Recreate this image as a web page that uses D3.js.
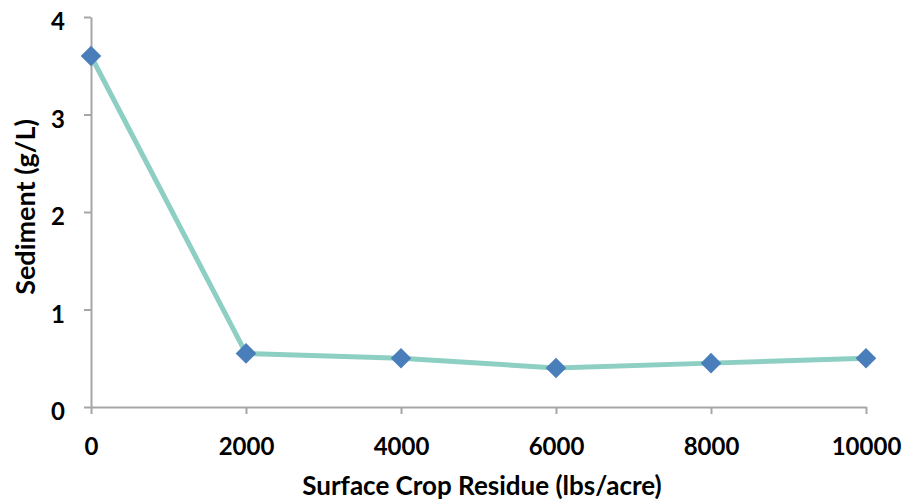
<!DOCTYPE html>
<html>
<head>
<meta charset="utf-8">
<script src="https://cdn.jsdelivr.net/npm/d3@7"></script>
<style>
  body { margin: 0; background: white; }
  text { font-family: Lato, "Open Sans", sans-serif; font-weight: bold; fill: #000; }
</style>
</head>
<body>
<div id="chart"></div>
<script>
// crop residue (lbs/acre) vs sediment (g/L)
const residue = [0, 2000, 4000, 6000, 8000, 10000];
const sediment = [3.6, 0.55, 0.5, 0.4, 0.45, 0.5];
const xTicks = [0, 2000, 4000, 6000, 8000, 10000];
const yTicks = [0, 1, 2, 3, 4];

let dim = { width: 920, height: 503 };
let m = { left: 91, right: 54, top: 17, bottom: 96 };

let svg = d3.select('#chart').append('svg')
    .attr('width', dim.width)
    .attr('height', dim.height);

let x = d3.scaleLinear().domain([0, 10000]).range([m.left, dim.width - m.right]);
let y = d3.scaleLinear().domain([0, 4]).range([dim.height - m.bottom, m.top]);

let xAxis = svg.append('g')
    .attr('transform', 'translate(0,' + y(0) + ')')
    .call(d3.axisBottom(x).tickValues(xTicks).tickSize(7).tickSizeOuter(0).tickFormat(d3.format('d')));

let yAxis = svg.append('g')
    .attr('transform', 'translate(' + x(0) + ',0)')
    .call(d3.axisLeft(y).tickValues(yTicks).tickSize(7).tickSizeOuter(0).tickPadding(19).tickFormat(d3.format('d')));

[xAxis, yAxis].forEach(a => {
    a.selectAll('path, line').attr('stroke', '#a6a6a6').attr('stroke-width', 2);
    a.selectAll('text').style('font-size', '24px');
});
xAxis.selectAll('text').attr('y', 48).attr('dy', null);
yAxis.selectAll('text').attr('dy', '0.54em');

let line = d3.line().x((d, i) => x(residue[i])).y(d => y(d));

svg.append('path')
    .datum(sediment)
    .attr('d', line)
    .attr('fill', 'none')
    .attr('stroke', '#8dcfc2')
    .attr('stroke-width', 5)
    .attr('stroke-linejoin', 'round');

svg.selectAll('.pt')
    .data(sediment)
    .join('path')
    .attr('class', 'pt')
    .attr('transform', (d, i) => 'translate(' + x(residue[i]) + ',' + y(d) + ')')
    .attr('d', d3.symbol(d3.symbolDiamond2, 270))
    .attr('fill', '#4a7ebb');

svg.append('text')
    .attr('x', 482)
    .attr('y', 495)
    .attr('text-anchor', 'middle')
    .style('font-size', '26px')
    .text('Surface Crop Residue (lbs/acre)');

svg.append('text')
    .attr('transform', 'translate(35,207) rotate(-90)')
    .attr('text-anchor', 'middle')
    .style('font-size', '27px')
    .text('Sediment (g/L)');
</script>
</body>
</html>
